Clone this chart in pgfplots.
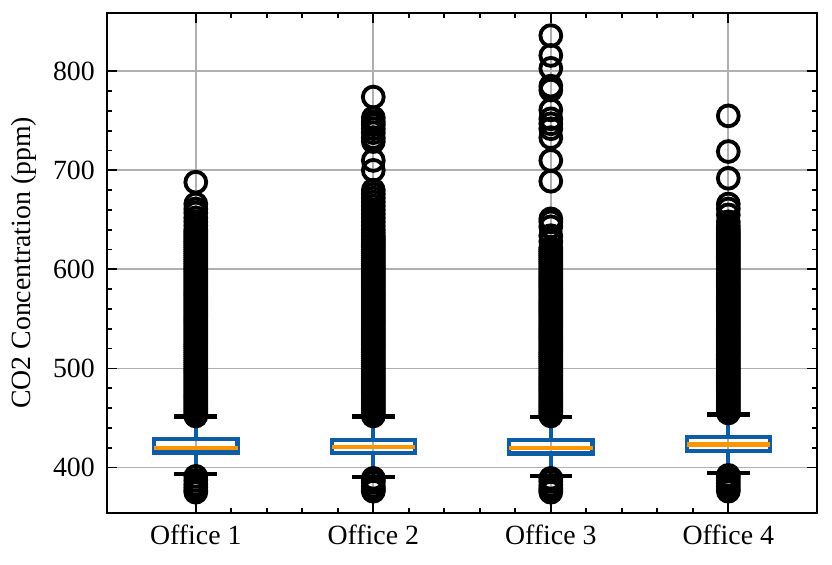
\documentclass[border=0pt]{standalone}
\usepackage{fontspec}
\setmainfont{Liberation Serif}
\usepackage{pgfplots}
\pgfplotsset{compat=1.18}
\usepgfplotslibrary{statistics}
\definecolor{cblue}{HTML}{0C5DA5}
\definecolor{corange}{HTML}{FF9500}
\definecolor{cgrid}{HTML}{B0B0B0}
\begin{document}
\begin{tikzpicture}[font=\fontsize{8}{9.6}\selectfont]
\begin{axis}[
  name=ax, scale only axis, width=204.3pt, height=143.9pt,
  xmin=0.5, xmax=4.5, ymin=354, ymax=859,
  xtick={1,2,3,4}, xticklabels={Office 1,Office 2,Office 3,Office 4},
  ytick={400,500,600,700,800},
  minor x tick num=4, minor y tick num=4,
  tick align=inside, tick pos=both,
  major tick length=3pt, minor tick length=1.5pt,
  every tick/.style={black, line width=0.5pt},
  axis line style={line width=0.6pt},
  grid=major, major grid style={cgrid, line width=0.5pt},
  ylabel={CO2 Concentration (ppm)}, ylabel shift=-2pt,
  /pgf/number format/assume math mode=true,
  boxplot/draw direction=y,
  boxplot/box extend=0.47, boxplot/whisker extend=0.24,
  boxplot/every box/.style={draw=cblue, line width=1.2pt},
  boxplot/every median/.style={draw=corange, line width=1.2pt},
  boxplot/every whisker/.style={draw=cblue, line width=1.2pt},
  boxplot/draw/lower whisker/.code={%
    \draw[cblue, line width=1.2pt]
      (boxplot box cs:\pgfplotsboxplotvalue{lower quartile},0.5) --
      (boxplot box cs:\pgfplotsboxplotvalue{lower whisker},0.5);
    \draw[black, line width=1.2pt]
      (boxplot whisker cs:\pgfplotsboxplotvalue{lower whisker},0) --
      (boxplot whisker cs:\pgfplotsboxplotvalue{lower whisker},1);
  },
  boxplot/draw/upper whisker/.code={%
    \draw[cblue, line width=1.2pt]
      (boxplot box cs:\pgfplotsboxplotvalue{upper quartile},0.5) --
      (boxplot box cs:\pgfplotsboxplotvalue{upper whisker},0.5);
    \draw[black, line width=1.2pt]
      (boxplot whisker cs:\pgfplotsboxplotvalue{upper whisker},0) --
      (boxplot whisker cs:\pgfplotsboxplotvalue{upper whisker},1);
  },
  every axis plot/.append style={mark=o, mark size=3pt,
    mark options={draw=black, line width=1.1pt, solid, fill=none}},
]
% Office 1
\addplot[boxplot prepared={draw position=1, lower whisker=393, lower quartile=415,
  median=420, upper quartile=428.5, upper whisker=451.5}]
  table[row sep=\\, y index=0]{y\\
391\\387\\383\\380\\377\\375\\
452\\454\\456\\458\\460\\462\\464\\466\\468\\470\\472\\474\\476\\478\\480\\482\\484\\486\\488\\490\\
492\\494\\496\\498\\500\\502\\504\\506\\508\\510\\512\\514\\516\\518\\520\\522\\524\\526\\528\\530\\
532\\534\\536\\538\\540\\542\\544\\546\\548\\550\\552\\554\\556\\558\\560\\562\\564\\566\\568\\570\\
572\\574\\576\\578\\580\\582\\584\\586\\588\\590\\592\\594\\596\\598\\600\\602\\604\\606\\608\\610\\
612\\614\\616\\618\\620\\622\\624\\626\\628\\630\\632\\634\\636\\638\\640\\
644\\648\\652\\657\\661\\666\\688\\
};
% Office 2
\addplot[boxplot prepared={draw position=2, lower whisker=390.2, lower quartile=414.4,
  median=420.5, upper quartile=427.5, upper whisker=451.5}]
  table[row sep=\\, y index=0]{y\\
389\\387\\385\\381\\379\\377\\376\\
452\\454\\456\\458\\460\\462\\464\\466\\468\\470\\472\\474\\476\\478\\480\\482\\484\\486\\488\\490\\
492\\494\\496\\498\\500\\502\\504\\506\\508\\510\\512\\514\\516\\518\\520\\522\\524\\526\\528\\530\\
532\\534\\536\\538\\540\\542\\544\\546\\548\\550\\552\\554\\556\\558\\560\\562\\564\\566\\568\\570\\
572\\574\\576\\578\\580\\582\\584\\586\\588\\590\\592\\594\\596\\598\\600\\602\\604\\606\\608\\610\\
612\\614\\616\\618\\620\\622\\624\\626\\628\\630\\632\\
634\\637\\640\\644\\648\\652\\656\\660\\664\\668\\672\\676\\680\\
700\\710\\729\\733\\738\\742\\746\\749\\753\\774\\
};
% Office 3
\addplot[boxplot prepared={draw position=3, lower whisker=391, lower quartile=414,
  median=420, upper quartile=428, upper whisker=451}]
  table[row sep=\\, y index=0]{y\\
389\\386\\382\\379\\377\\375\\
452\\454\\456\\458\\460\\462\\464\\466\\468\\470\\472\\474\\476\\478\\480\\482\\484\\486\\488\\490\\
492\\494\\496\\498\\500\\502\\504\\506\\508\\510\\512\\514\\516\\518\\520\\522\\524\\526\\528\\530\\
532\\534\\536\\538\\540\\542\\544\\546\\548\\550\\552\\554\\556\\558\\560\\562\\564\\566\\568\\570\\
572\\574\\576\\578\\580\\582\\584\\586\\588\\590\\592\\594\\596\\598\\600\\602\\604\\606\\608\\610\\
612\\614\\616\\618\\620\\
622\\628\\634\\643\\648\\651\\689\\710\\733\\742\\747\\752\\761\\781\\785\\803\\816\\836\\
};
% Office 4
\addplot[boxplot prepared={draw position=4, lower whisker=394, lower quartile=416.2,
  median=423.2, upper quartile=430.5, upper whisker=453.5}]
  table[row sep=\\, y index=0]{y\\
392\\390\\387\\384\\381\\378\\376\\
455\\457\\459\\461\\463\\465\\467\\469\\471\\473\\475\\477\\479\\481\\483\\485\\487\\489\\491\\493\\
495\\497\\499\\501\\503\\505\\507\\509\\511\\513\\515\\517\\519\\521\\523\\525\\527\\529\\531\\533\\
535\\537\\539\\541\\543\\545\\547\\549\\551\\553\\555\\557\\559\\561\\563\\565\\567\\569\\571\\573\\
575\\577\\579\\581\\583\\585\\587\\589\\591\\593\\595\\597\\599\\601\\603\\605\\607\\609\\611\\613\\
615\\617\\619\\621\\623\\625\\627\\629\\631\\633\\635\\637\\639\\641\\
644\\648\\655\\661\\666\\692\\719\\755\\
};
\end{axis}
\pgfresetboundingbox
\path ([shift={(-30.8pt,-14.7pt)}]ax.south west) rectangle ([shift={(4.3pt,3.7pt)}]ax.north east);
\end{tikzpicture}
\end{document}
